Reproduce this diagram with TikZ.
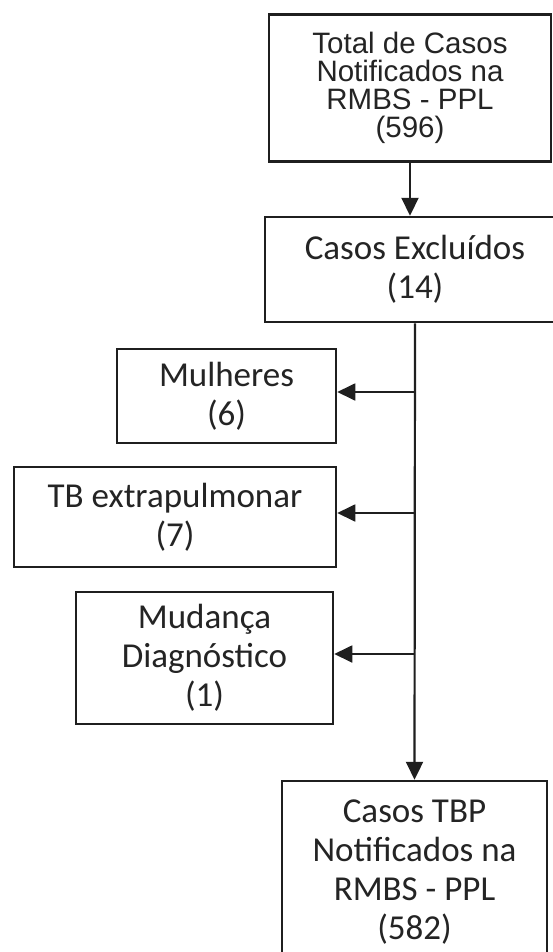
\documentclass[tikz,border=0pt]{standalone}
\usepackage{fontspec}
\setmainfont{Carlito}
\newfontfamily\arialfont{Liberation Sans}
\usepackage{tikz}
\usetikzlibrary{positioning}
\usetikzlibrary{arrows.meta}
\usepackage{color}
\definecolor{ColorLine}{rgb}{0.12,0.12,0.12}
\definecolor{ColorText}{rgb}{0.14,0.14,0.14}

\begin{document}
\begin{tikzpicture}[x=1pt,y=-1pt,
	box/.style={rectangle, draw=ColorLine, line width=2.5pt, inner sep=0pt, align=center,
		text=ColorText, font=\fontsize{35}{39}\selectfont},
	topbox/.style={box, font=\arialfont\fontsize{29.5}{28}\selectfont},
	post/.style={-{Triangle[length=18pt,width=17pt]}, draw=ColorLine, line width=2.2pt},
	side/.style={post, line width=1.8pt}]

	\useasboundingbox[fill=white] (0,0) rectangle (553,952);

	% Main column
	\node[topbox, minimum width=282pt, minimum height=147pt] (total) at (410,88)
		{Total de Casos\\Notificados na\\RMBS - PPL\\(596)};
	\node[box, minimum width=300pt, minimum height=105pt] (excl) at (415,269.5)
		{Casos Exclu\'idos\\(14)};
	\node[box, minimum width=265pt, minimum height=182pt] (final) at (414.5,872)
		{Casos TBP\\Notificados na\\RMBS - PPL\\(582)};
	% Excluded
	\node[box, minimum width=219pt, minimum height=94pt] (mul) at (226.5,396)
		{Mulheres\\(6)};
	\node[box, minimum width=322pt, minimum height=100pt] (extra) at (175,517)
		{TB extrapulmonar\\(7)};
	\node[box, minimum width=257pt, minimum height=132pt] (diag) at (204.5,658)
		{Mudan\c{c}a\\Diagn\'ostico\\(1)};

	\coordinate (j1) at ([yshift=4pt]excl.south |- mul.east);
	\coordinate (j2) at ([yshift=4pt]excl.south |- extra.east);
	\coordinate (j3) at ([yshift=4pt]excl.south |- diag.east);

	\path[post] (total.south) to (total.south |- excl.north);
	\path[post] (excl.south) to (final.north);

	\path[side] (j1) to ([yshift=4pt]mul.east);
	\path[side] (j2) to ([yshift=4pt]extra.east);
	\path[side] (j3) to ([yshift=4pt]diag.east);
\end{tikzpicture}
\end{document}
